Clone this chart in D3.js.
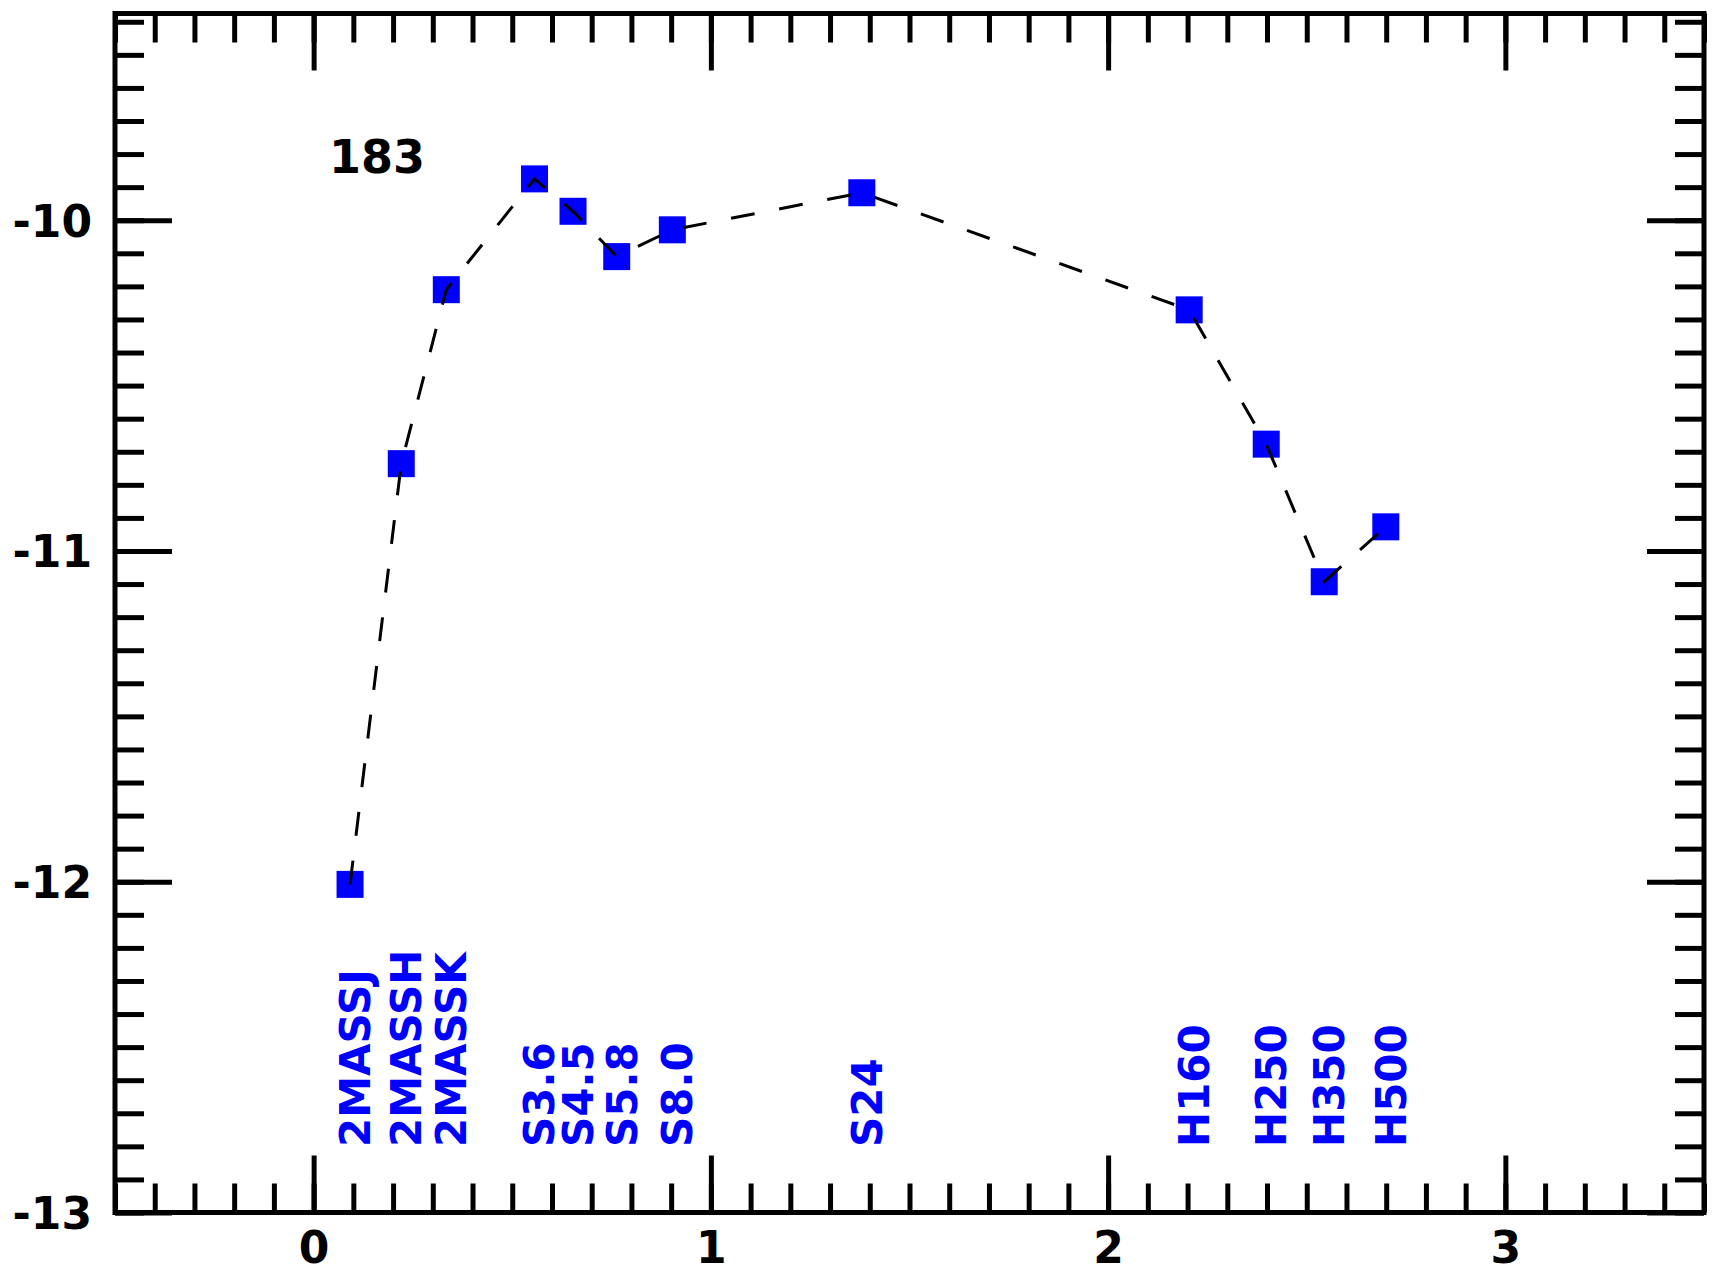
<!DOCTYPE html>
<meta charset="utf-8">
<title>SED 183</title>
<style>
    body { margin: 0; background: #fff; }
    text { font-family: "DejaVu Sans", sans-serif; font-weight: bold; }
</style>
<body>
</body>

<script src="https://d3js.org/d3.v7.min.js"></script>
<script>
    const width = 1717, height = 1275;

    // photometric bands, log10(wavelength / micron), log10(flux)
    const bands = ["2MASSJ", "2MASSH", "2MASSK", "S3.6", "S4.5", "S5.8", "S8.0", "S24", "H160", "H250", "H350", "H500"];
    const logLambda = [0.0917, 0.2206, 0.334, 0.556, 0.653, 0.763, 0.903, 1.380, 2.204, 2.398, 2.544, 2.699];
    const logFlux = [-12.008, -10.736, -10.210, -9.875, -9.973, -10.110, -10.029, -9.917, -10.271, -10.677, -11.093, -10.927];

    const xMajor = [0, 1, 2, 3];
    const yMajor = [-10, -11, -12, -13];
    const sourceLabel = "183";

    const x = d3.scaleLinear().domain([-0.5, 3.5]).range([115, 1704]);
    const y = d3.scaleLinear().domain([-13, -9.375]).range([1212.5, 13.5]);

    const xMinor = d3.range(-5, 36).map(i => i / 10);
    const yMinor = d3.range(-130, -93).map(i => i / 10);

    const svg = d3.select("body").append("svg")
        .attr("width", width)
        .attr("height", height);

    svg.append("rect").attr("width", width).attr("height", height).attr("fill", "#fff");

    const points = bands.map((b, i) => ({band: b, lx: logLambda[i], lf: logFlux[i]}));

    // ticks on all four sides, pointing inward
    function ticks(axisFn, scale, values, size, transform, labels) {
        const g = svg.append("g")
            .attr("transform", transform)
            .call(axisFn(scale).tickValues(values).tickSize(-size)
                .tickPadding(labels ? 22 : 0)
                .tickFormat(labels ? d => String(d) : ""));
        g.select(".domain").remove();
        g.selectAll(".tick line").attr("stroke", "#000").attr("stroke-width", 5);
        g.selectAll(".tick text").attr("fill", "#000").style("font-size", "44px");
        return g;
    }

    ticks(d3.axisBottom, x, xMinor, 29, `translate(0,${y.range()[0]})`, false);
    ticks(d3.axisBottom, x, xMajor, 57, `translate(0,${y.range()[0]})`, true)
        .selectAll(".tick text").attr("dy", "0.72em").attr("y", 19);
    ticks(d3.axisTop, x, xMinor, 29, `translate(0,${y.range()[1]})`, false);
    ticks(d3.axisTop, x, xMajor, 57, `translate(0,${y.range()[1]})`, false);
    ticks(d3.axisLeft, y, yMinor, 29, `translate(${x.range()[0]},0)`, false);
    ticks(d3.axisLeft, y, yMajor, 57, `translate(${x.range()[0]},0)`, true)
        .selectAll(".tick text").attr("dy", "0.36em").attr("x", -23);
    ticks(d3.axisRight, y, yMinor, 29, `translate(${x.range()[1]},0)`, false);
    ticks(d3.axisRight, y, yMajor, 57, `translate(${x.range()[1]},0)`, false);

    // frame
    svg.append("rect")
        .attr("x", x.range()[0]).attr("y", y.range()[1])
        .attr("width", x.range()[1] - x.range()[0])
        .attr("height", y.range()[0] - y.range()[1])
        .attr("fill", "none")
        .attr("stroke", "#000")
        .attr("stroke-width", 5);

    // markers
    svg.append("g")
        .selectAll("rect")
        .data(points)
        .join("rect")
        .attr("x", d => x(d.lx) - 13.5)
        .attr("y", d => y(d.lf) - 13.5)
        .attr("width", 27)
        .attr("height", 27)
        .attr("fill", "#0000ff");

    // dashed connecting line (drawn over the markers)
    svg.append("path")
        .datum(points)
        .attr("fill", "none")
        .attr("stroke", "#000")
        .attr("stroke-width", 3)
        .attr("stroke-dasharray", "24 25")
        .attr("d", d3.line().x(d => x(d.lx)).y(d => y(d.lf)));

    // band names, rotated
    svg.append("g")
        .selectAll("text")
        .data(points)
        .join("text")
        .attr("transform", d => `translate(${x(d.lx) + 20},1147) rotate(-90)`)
        .attr("fill", "#0000ff")
        .style("font-size", "42px")
        .text(d => d.band);

    svg.append("text")
        .attr("x", 329)
        .attr("y", 173)
        .attr("fill", "#000")
        .style("font-size", "46px")
        .text(sourceLabel);
</script>
